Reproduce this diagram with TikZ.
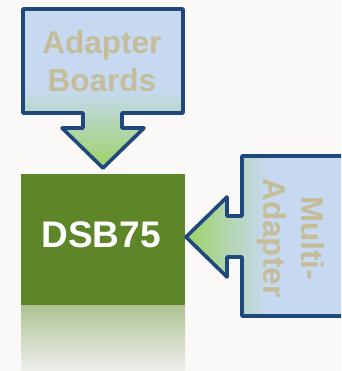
\documentclass[tikz,border=0pt]{standalone}
\usepackage{fontspec}
\setmainfont{Liberation Sans}
\definecolor{bgc}{HTML}{FAF9F7}
\definecolor{calblue}{HTML}{C6D9F1}
\definecolor{arrgreen}{HTML}{9DD268}
\definecolor{bordc}{HTML}{1F497D}
\definecolor{tanc}{HTML}{C4BD97}
\definecolor{boxgreen}{HTML}{5E8628}
\definecolor{reflc}{HTML}{AEC394}
\definecolor{reflb}{HTML}{EFF0EC}
\pgfdeclareverticalshading{topcall}{100bp}{color(0bp)=(arrgreen); color(25bp)=(arrgreen); color(50bp)=(calblue); color(75bp)=(calblue); color(100bp)=(calblue)}
\pgfdeclarehorizontalshading{rightcall}{100bp}{color(0bp)=(arrgreen); color(25bp)=(arrgreen); color(50bp)=(calblue); color(75bp)=(calblue); color(100bp)=(calblue)}
\tikzset{
  callout/.style={draw=bordc, line width=3.6pt, line join=round},
  calltext/.style={text=tanc, font=\fontsize{31.5}{38}\selectfont\bfseries, align=center, inner sep=0pt},
  greenbox/.style={fill=boxgreen, draw=none, minimum width=164pt, minimum height=131pt, inner sep=0pt},
  boxtext/.style={text=white, font=\fontsize{37}{40}\selectfont\bfseries, inner sep=0pt}
}
\begin{document}
\begin{tikzpicture}[x=1pt,y=-1pt]
\useasboundingbox (0,0) rectangle (341,371);
\clip (0,0) rectangle (341,371);
\fill[bgc] (0,0) rectangle (341,371);
% reflection
\shade[top color=reflc, bottom color=reflb] (21,305) rectangle (185,371);
% green box
\node[greenbox] (dsb) at (103,239.5) {};
\node[boxtext] (dsblabel) at (101,235) {DSB75};
% top callout
\path[callout, shading=topcall] (23,9) -- (183,9) -- (183,113) -- (122,113) -- (122,128) -- (144,128) -- (103,168) -- (62,128) -- (83,128) -- (83,113) -- (23,113) -- cycle;
\node[calltext] (toplabel) at (102,61) {Adapter\\Boards};
% right callout
\path[callout, shading=rightcall] (348,156) -- (242,156) -- (242,216) -- (227,216) -- (227,197) -- (186,237) -- (227,277) -- (227,257) -- (242,257) -- (242,316) -- (348,316) -- cycle;
\node[calltext, rotate=-90] (rightlabel) at (291,238) {Multi-\\Adapter};
\end{tikzpicture}
\end{document}
